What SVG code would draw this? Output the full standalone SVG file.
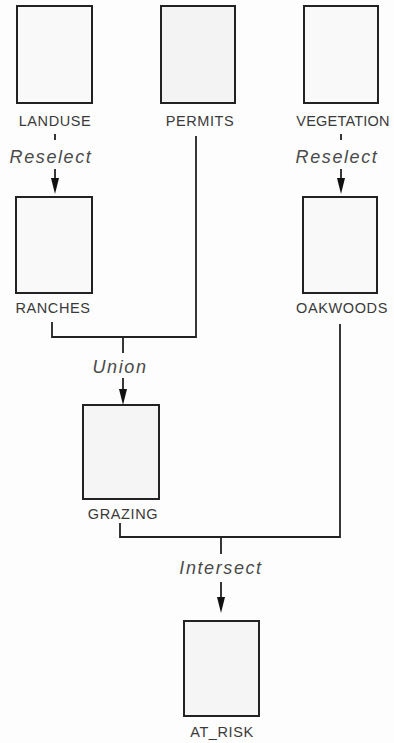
<svg xmlns="http://www.w3.org/2000/svg" width="394" height="743" viewBox="0 0 394 743">
  <style>
    .box { fill: #f9f9f9; stroke: #222; stroke-width: 2; }
    .lbl { font-family: "Liberation Sans", Arial, sans-serif; font-size: 14.5px; fill: #3a3a3a; text-anchor: middle; letter-spacing: 0.6px; }
    .op { font-family: "Liberation Sans", Arial, sans-serif; font-size: 18px; font-style: italic; fill: #4a4a4a; text-anchor: middle; letter-spacing: 1.6px; }
    .wire { fill: none; stroke: #222; stroke-width: 1.8; }
    .head { fill: #111; }
  </style>
  <rect width="394" height="743" fill="#fdfdfd"/>

  <g id="landuse">
    <rect class="box" x="17" y="6" width="75" height="97"/>
    <text class="lbl" x="55" y="126">LANDUSE</text>
  </g>
  <g id="permits">
    <rect class="box" x="161" y="6" width="74" height="97" style="fill:#f3f3f3"/>
    <text class="lbl" x="200" y="126">PERMITS</text>
  </g>
  <g id="vegetation">
    <rect class="box" x="304" y="6" width="74" height="97"/>
    <text class="lbl" x="343" y="126" style="letter-spacing:0.2px">VEGETATION</text>
  </g>
  <g id="ranches">
    <rect class="box" x="16" y="197" width="76" height="96"/>
    <text class="lbl" x="53" y="313">RANCHES</text>
  </g>
  <g id="oakwoods">
    <rect class="box" x="303" y="197" width="74" height="96"/>
    <text class="lbl" x="342" y="313">OAKWOODS</text>
  </g>
  <g id="grazing">
    <rect class="box" x="83" y="405" width="76" height="94" style="fill:#f5f5f5"/>
    <text class="lbl" x="123" y="519">GRAZING</text>
  </g>
  <g id="at_risk">
    <rect class="box" x="184" y="621" width="75" height="95" style="fill:#f5f5f5"/>
    <text class="lbl" x="222" y="737">AT_RISK</text>
  </g>

  <g id="connectors">
    <!-- LANDUSE -> RANCHES (Reselect) -->
    <path class="wire" d="M55,134 V140 M55,169 V180"/>
    <polygon class="head" points="51,178 59,178 55,194"/>
    <text class="op" x="51" y="163">Reselect</text>

    <!-- VEGETATION -> OAKWOODS (Reselect) -->
    <path class="wire" d="M341,134 V140 M341,169 V180"/>
    <polygon class="head" points="337,178 345,178 341,194"/>
    <text class="op" x="337" y="163">Reselect</text>

    <!-- RANCHES + PERMITS -> GRAZING (Union) -->
    <path class="wire" d="M52,322 V337 H196 V136 M123,337 V353 M123,378 V390"/>
    <polygon class="head" points="119,389 127,389 123,405"/>
    <text class="op" x="120" y="373">Union</text>

    <!-- GRAZING + OAKWOODS -> AT_RISK (Intersect) -->
    <path class="wire" d="M120,523 V537 H340 V324 M221,537 V554 M221,582 V598"/>
    <polygon class="head" points="217,597 225,597 221,613"/>
    <text class="op" x="221" y="574">Intersect</text>
  </g>
</svg>
